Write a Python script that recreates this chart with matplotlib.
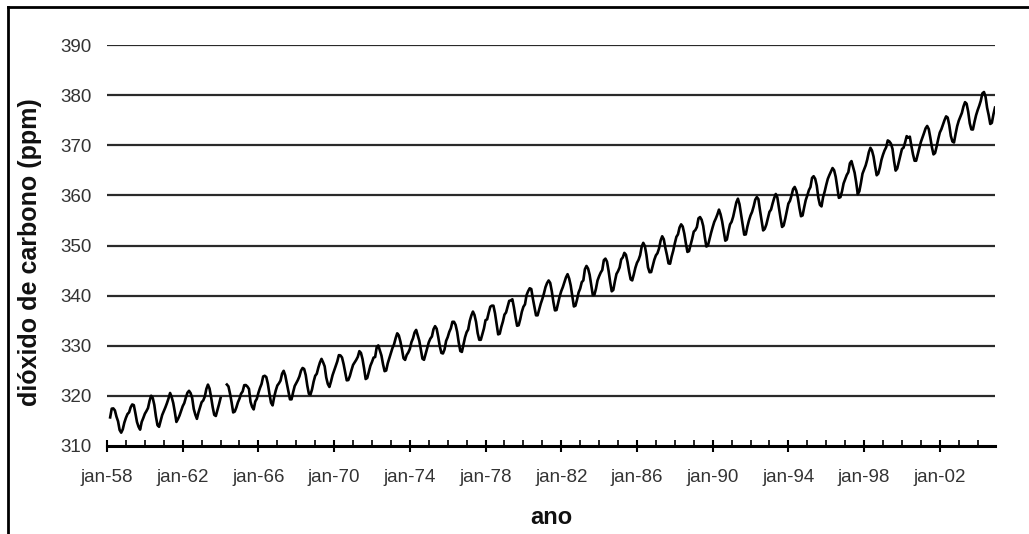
# Concentração de CO2 em Mauna Loa (médias mensais), jan-58 a dez-04

import matplotlib.pyplot as plt
from matplotlib.lines import Line2D
import numpy as np

nan = np.nan

# first month of the series is jan-58, one value per month
start_year = 1958
co2_ppm = [
    nan, nan, 315.71, 317.45, 317.50, 317.10, 315.86, 314.93, 313.20, 312.66, 313.33, 314.67,  # 1958
    315.62, 316.38, 316.71, 317.72, 318.29, 318.15, 316.54, 314.80, 313.84, 313.26, 314.80, 315.58,  # 1959
    316.43, 316.97, 317.58, 319.02, 320.03, 319.59, 318.18, 315.91, 314.16, 313.83, 315.00, 316.19,  # 1960
    316.93, 317.70, 318.54, 319.48, 320.58, 319.77, 318.57, 316.79, 314.80, 315.38, 316.10, 317.01,  # 1961
    317.94, 318.56, 319.68, 320.63, 321.01, 320.55, 319.58, 317.40, 316.26, 315.42, 316.69, 317.69,  # 1962
    318.74, 319.08, 319.86, 321.39, 322.25, 321.47, 319.74, 317.77, 316.21, 315.99, 317.12, 318.31,  # 1963
    319.57, nan, nan, nan, 322.26, 321.89, 320.44, 318.70, 316.70, 316.87, 317.68, 318.71,  # 1964
    319.44, 320.44, 320.89, 322.13, 322.16, 321.87, 321.39, 318.81, 317.81, 317.30, 318.87, 319.42,  # 1965
    320.62, 321.59, 322.39, 323.87, 324.01, 323.75, 322.39, 320.37, 318.64, 318.10, 319.79, 321.08,  # 1966
    322.07, 322.50, 323.04, 324.42, 325.00, 324.09, 322.55, 320.92, 319.31, 319.31, 320.72, 321.96,  # 1967
    322.57, 323.15, 323.89, 325.02, 325.57, 325.36, 324.14, 322.03, 320.41, 320.25, 321.31, 322.84,  # 1968
    324.00, 324.42, 325.64, 326.66, 327.38, 326.70, 325.89, 323.67, 322.38, 321.78, 322.85, 324.12,  # 1969
    325.03, 325.99, 326.87, 328.13, 328.07, 327.66, 326.35, 324.69, 323.10, 323.16, 323.98, 325.13,  # 1970
    326.17, 326.68, 327.18, 327.78, 328.92, 328.57, 327.34, 325.46, 323.36, 323.57, 324.80, 326.01,  # 1971
    326.77, 327.63, 327.75, 329.72, 330.07, 329.09, 328.05, 326.32, 324.93, 325.06, 326.50, 327.55,  # 1972
    328.54, 329.56, 330.30, 331.50, 332.48, 332.07, 330.87, 329.31, 327.51, 327.18, 328.16, 328.64,  # 1973
    329.35, 330.71, 331.48, 332.65, 333.16, 332.06, 330.99, 329.17, 327.41, 327.20, 328.33, 329.50,  # 1974
    330.68, 331.41, 331.85, 333.29, 333.91, 333.40, 331.78, 329.88, 328.57, 328.46, 329.26, 330.97,  # 1975
    331.71, 332.76, 333.48, 334.78, 334.78, 334.17, 332.78, 330.64, 328.95, 328.77, 330.23, 331.69,  # 1976
    332.70, 333.24, 334.96, 336.04, 336.82, 336.13, 334.73, 332.52, 331.19, 331.19, 332.35, 333.47,  # 1977
    335.11, 335.26, 336.60, 337.77, 338.00, 337.99, 336.48, 334.37, 332.27, 332.41, 333.76, 334.83,  # 1978
    336.21, 336.64, 337.81, 338.95, 339.05, 339.27, 337.64, 335.68, 333.99, 334.09, 335.29, 336.76,  # 1979
    337.77, 338.26, 340.10, 340.88, 341.47, 341.31, 339.41, 337.74, 336.07, 336.07, 337.22, 338.38,  # 1980
    339.32, 340.41, 341.69, 342.51, 343.02, 342.54, 340.88, 338.75, 337.05, 337.13, 338.45, 339.85,  # 1981
    340.90, 341.70, 342.70, 343.65, 344.28, 343.42, 342.02, 339.97, 337.84, 338.00, 339.20, 340.63,  # 1982
    341.41, 342.68, 343.04, 345.27, 345.92, 345.40, 344.16, 342.11, 340.11, 340.15, 341.38, 343.02,  # 1983
    343.87, 344.59, 345.11, 347.07, 347.38, 346.78, 344.96, 342.71, 340.86, 341.13, 342.84, 344.32,  # 1984
    344.88, 345.62, 347.23, 347.62, 348.53, 348.16, 346.72, 344.83, 343.24, 343.04, 344.24, 345.56,  # 1985
    346.54, 347.13, 348.05, 349.77, 350.53, 349.90, 348.11, 345.65, 344.66, 344.70, 345.94, 347.16,  # 1986
    348.03, 348.47, 349.42, 350.99, 351.84, 351.25, 349.52, 348.10, 346.44, 346.36, 347.81, 348.96,  # 1987
    350.43, 351.72, 352.22, 353.59, 354.22, 353.79, 352.39, 350.44, 348.72, 348.88, 350.07, 351.34,  # 1988
    352.76, 353.07, 353.68, 355.42, 355.67, 355.13, 353.90, 351.67, 349.80, 349.99, 351.30, 352.53,  # 1989
    353.66, 354.70, 355.39, 356.20, 357.16, 356.22, 354.82, 352.91, 350.96, 351.18, 352.83, 354.21,  # 1990
    354.72, 355.75, 357.16, 358.60, 359.34, 358.24, 356.17, 354.03, 352.16, 352.21, 353.75, 354.99,  # 1991
    355.99, 356.72, 357.81, 359.15, 359.66, 359.25, 357.03, 355.00, 353.01, 353.31, 354.16, 355.40,  # 1992
    356.70, 357.17, 358.38, 359.46, 360.28, 359.60, 357.57, 355.52, 353.70, 353.98, 355.33, 356.80,  # 1993
    358.36, 358.91, 359.97, 361.26, 361.68, 360.95, 359.55, 357.49, 355.84, 356.00, 357.59, 359.05,  # 1994
    359.98, 361.03, 361.66, 363.48, 363.82, 363.30, 361.94, 359.50, 358.11, 357.80, 359.61, 360.74,  # 1995
    362.09, 363.29, 364.06, 364.76, 365.45, 365.01, 363.70, 361.54, 359.51, 359.65, 360.80, 362.38,  # 1996
    363.23, 364.06, 364.61, 366.40, 366.84, 365.68, 364.52, 362.57, 360.24, 360.83, 362.49, 364.34,  # 1997
    365.18, 365.98, 367.13, 368.61, 369.49, 368.95, 367.74, 365.79, 364.01, 364.35, 365.52, 367.08,  # 1998
    368.12, 368.98, 369.60, 370.96, 370.77, 370.33, 369.28, 366.86, 364.94, 365.35, 366.68, 368.04,  # 1999
    369.25, 369.50, 370.56, 371.82, 371.51, 371.71, 369.85, 368.20, 366.91, 366.91, 368.16, 369.34,  # 2000
    370.65, 371.52, 372.43, 373.37, 373.85, 373.22, 371.51, 369.61, 368.18, 368.45, 369.76, 371.24,  # 2001
    372.53, 373.20, 374.12, 375.02, 375.76, 375.52, 374.01, 371.85, 370.75, 370.55, 372.25, 373.79,  # 2002
    374.88, 375.64, 376.45, 377.73, 378.60, 378.28, 376.70, 374.38, 373.17, 373.14, 374.66, 375.99,  # 2003
    377.00, 377.87, 378.88, 380.35, 380.62, 379.69, 377.47, 376.01, 374.25, 374.46, 376.16, 377.51,  # 2004
]

label_years = [1958, 1962, 1966, 1970, 1974, 1978, 1982, 1986, 1990, 1994, 1998, 2002]
x_labels = ['jan-%02d' % (y % 100) for y in label_years]
y_ticks = [310, 320, 330, 340, 350, 360, 370, 380, 390]

# month index -> decimal year
t = start_year + np.arange(len(co2_ppm)) / 12.0

plt.rcParams['font.family'] = ['Liberation Sans', 'DejaVu Sans']

W, H = 1029, 534
fig = plt.figure(figsize=(W / 100, H / 100), dpi=100)
ax = fig.add_axes([107 / W, 1 - 446 / H, (995 - 107) / W, (446 - 45) / H])

# horizontal grid lines (no line at 310, that's the axis)
for y in y_ticks[1:]:
    ax.axhline(y, color='#2a2a2a', lw=1.6, zorder=1)

ax.plot(t, co2_ppm, color='black', lw=1.9, zorder=3)

ax.set_xlim(t[0], t[-1])
ax.set_ylim(310, 390)

for side in ['top', 'right', 'left']:
    ax.spines[side].set_visible(False)
ax.spines['bottom'].set_linewidth(2.2)
ax.spines['bottom'].set_zorder(4)

ax.set_yticks(y_ticks)
ax.tick_params(axis='y', length=0, pad=11, labelsize=13.5, labelcolor='#333333')

ax.set_xticks(label_years)
ax.set_xticklabels(x_labels)
ax.set_xticks(np.arange(1958, 2005), minor=True)
ax.tick_params(axis='x', which='major', direction='inout', length=9, width=1.5,
               pad=12, labelsize=13.5, labelcolor='#333333')
ax.tick_params(axis='x', which='minor', direction='in', length=4, width=1.2)

# axis titles placed where they sit in the original
fig.text(30 / W, 1 - 252 / H, 'dióxido de carbono (ppm)', rotation=90,
         ha='center', va='center', fontsize=18, fontweight='bold', color='#111111')
fig.text(551 / W, 1 - 518 / H, 'ano', ha='center', va='center',
         fontsize=17, fontweight='bold', color='#111111')

# frame around the chart area (top and left edges)
fig.add_artist(Line2D([8 / W, 1], [1 - 7 / H, 1 - 7 / H], color='black', lw=2,
                      transform=fig.transFigure))
fig.add_artist(Line2D([8 / W, 8 / W], [0, 1 - 7 / H], color='black', lw=2,
                      transform=fig.transFigure))

fig.savefig('out.png', dpi=100)
